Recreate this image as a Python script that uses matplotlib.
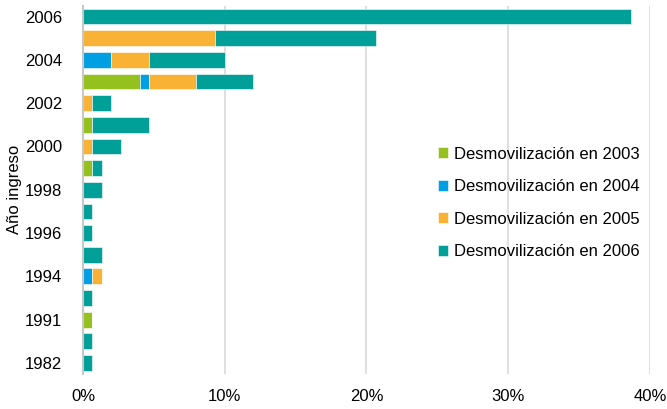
import matplotlib
matplotlib.use("Agg")
import matplotlib.pyplot as plt
import numpy as np

years = ["1982", "1990", "1991", "1992", "1994", "1995", "1996", "1997", "1998",
         "1999", "2000", "2001", "2002", "2003", "2004", "2005", "2006"]
d2003 = [0, 0, 0.67, 0, 0, 0, 0, 0, 0, 0.67, 0, 0.67, 0, 4.00, 0, 0, 0]
d2004 = [0, 0, 0, 0, 0.67, 0, 0, 0, 0, 0, 0, 0, 0, 0.67, 2.00, 0, 0]
d2005 = [0, 0, 0, 0, 0.67, 0, 0, 0, 0, 0, 0.67, 0, 0.67, 3.33, 2.67, 9.33, 0]
d2006 = [0.67, 0.67, 0, 0.67, 0, 1.33, 0.67, 0.67, 1.33, 0.67, 2.00, 4.00, 1.33, 4.00, 5.33, 11.33, 38.67]
series_labels = ["Desmovilización en 2003", "Desmovilización en 2004",
                 "Desmovilización en 2005", "Desmovilización en 2006"]
colors = ["#95C11F", "#009FE3", "#F9B233", "#00A099"]
xticks = [0, 10, 20, 30, 40]

plt.rcParams['font.family'] = ['Liberation Sans', 'DejaVu Sans']
FS = 12

fig = plt.figure(figsize=(6.67, 4.09), dpi=100)
ax = fig.add_axes([0.1244, 0.086, 0.850, 0.900])

y = np.arange(len(years))
left = np.zeros(len(years))
for vals, lab, c in zip([d2003, d2004, d2005, d2006], series_labels, colors):
    v = np.array(vals)
    ax.barh(y, v, left=left, height=0.73, color=c, label=lab,
            edgecolor="white", linewidth=0.4, zorder=3)
    left += v

ax.set_xlim(0, 40)
ax.set_ylim(-0.5, len(years) - 0.5)
ax.set_xticks(xticks)
ax.set_xticklabels([f"{t}%" for t in xticks], fontsize=FS)
ax.set_yticks(y)
ax.set_yticklabels([yr if (len(years) - 1 - i) % 2 == 0 else "" for i, yr in enumerate(years)],
                   fontsize=FS)
ax.tick_params(axis="both", length=0)
ax.tick_params(axis="y", pad=15)
ax.tick_params(axis="x", pad=11)
ax.grid(axis="x", color="#d9d9d9", linewidth=1.2, zorder=0)
for s in ["top", "right", "bottom"]:
    ax.spines[s].set_visible(False)
ax.spines["left"].set_color("#c8c8c8")
ax.spines["left"].set_linewidth(1.5)
ax.spines["left"].set_zorder(4)
ax.set_ylabel("Año ingreso", fontsize=FS)
ax.yaxis.set_label_coords(-0.107, 0.5)

leg = ax.legend(loc="upper left", bbox_to_anchor=(0.60, 0.658), frameon=False,
                fontsize=FS, handlelength=0.6, handleheight=0.6, handletextpad=0.35,
                labelspacing=1.05)

fig.savefig("out.png", dpi=100)
